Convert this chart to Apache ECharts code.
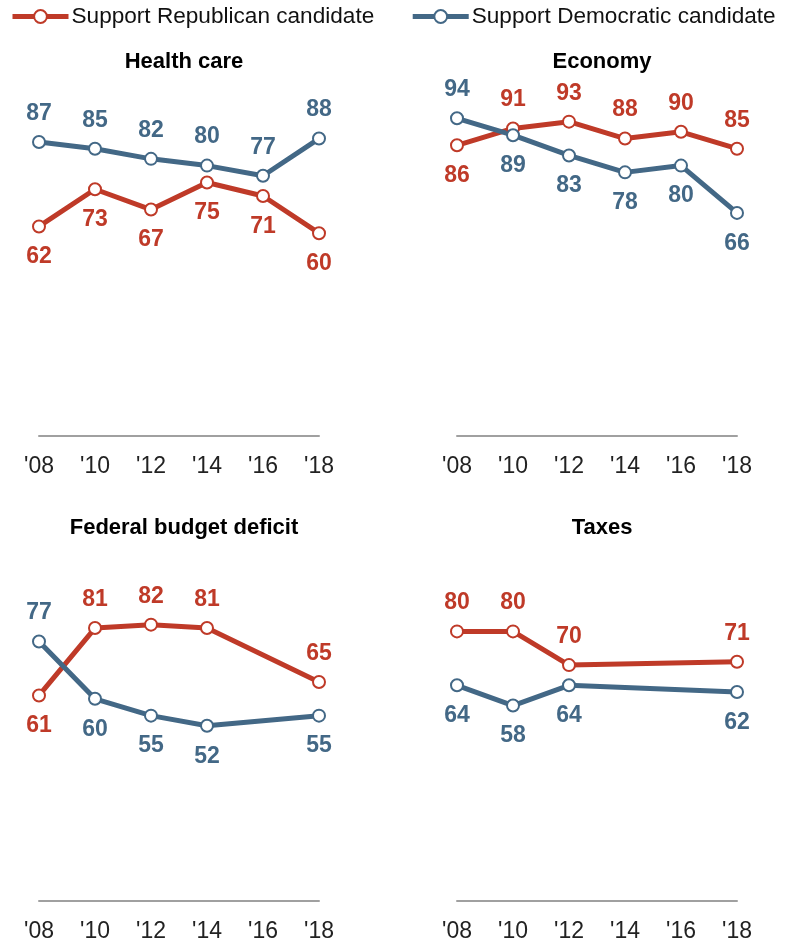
<!DOCTYPE html>
<html>
<head>
<meta charset="utf-8">
<script src="https://cdn.jsdelivr.net/npm/echarts@6/dist/echarts.min.js"></script>
<style>
html,body{margin:0;padding:0;background:#fff;}
#chart{width:789px;height:943px;}
</style>
</head>
<body>
<div id="chart"></div>
<script>
const years = ["'08", "'10", "'12", "'14", "'16", "'18"];
const panelTitles = ['Health care', 'Economy', 'Federal budget deficit', 'Taxes'];
const seriesNames = ['Support Republican candidate', 'Support Democratic candidate'];

const healthRep = [62, 73, 67, 75, 71, 60];
const healthDem = [87, 85, 82, 80, 77, 88];
const economyRep = [86, 91, 93, 88, 90, 85];
const economyDem = [94, 89, 83, 78, 80, 66];
const deficitRep = [61, 81, 82, 81, null, 65];
const deficitDem = [77, 60, 55, 52, null, 55];
const taxesRep = [80, 80, 70, null, null, 71];
const taxesDem = [64, 58, 64, null, null, 62];

const REP = '#bf3a28';
const DEM = '#436886';
const FONT = '"Liberation Sans", Arial, sans-serif';

const panels = [
  { rep: healthRep, dem: healthDem, left: 39, top: 98 },
  { rep: economyRep, dem: economyDem, left: 457, top: 98 },
  { rep: deficitRep, dem: deficitDem, left: 39, top: 564 },
  { rep: taxesRep, dem: taxesDem, left: 457, top: 564 }
];
const GW = 280, GH = 338;

function buildData(vals, other) {
  return vals.map((v, i) => {
    if (v === null) return '-';
    const above = other[i] === null || v >= other[i];
    return {
      value: v,
      label: { position: above ? 'top' : 'bottom', distance: above ? 10 : 12 }
    };
  });
}

const grid = [], xAxis = [], yAxis = [], series = [], title = [];
panels.forEach((p, k) => {
  grid.push({ left: p.left, top: p.top, width: GW, height: GH });
  xAxis.push({
    type: 'category', gridIndex: k, data: years, boundaryGap: false,
    axisLine: { lineStyle: { color: '#a0a0a0', width: 2 } },
    axisTick: { show: false },
    axisLabel: { color: '#222', fontSize: 23, fontFamily: FONT, margin: 19, interval: 0 },
    splitLine: { show: false }
  });
  yAxis.push({ type: 'value', gridIndex: k, min: 0, max: 100, show: false });
  title.push({
    text: panelTitles[k], left: p.left + GW / 2, top: p.top - 52,
    textAlign: 'center',
    textStyle: { fontSize: 22, fontWeight: 'bold', color: '#000', fontFamily: FONT }
  });
  [[p.rep, p.dem, REP, seriesNames[0]], [p.dem, p.rep, DEM, seriesNames[1]]].forEach(([vals, other, col, name]) => {
    series.push({
      type: 'line', name: name, xAxisIndex: k, yAxisIndex: k,
      data: buildData(vals, other), connectNulls: true,
      symbol: 'emptyCircle', symbolSize: 12,
      lineStyle: { color: col, width: 5 },
      itemStyle: { color: col, borderColor: col, borderWidth: 3 },
      label: { show: true, color: col, fontSize: 23, fontWeight: 'bold', fontFamily: FONT },
      animation: false
    });
  });
});

const chart = echarts.init(document.getElementById('chart'), null, { renderer: 'canvas' });
chart.setOption({
  animation: false,
  backgroundColor: '#fff',
  title: title,
  legend: {
    data: seriesNames, left: 10, top: 5, width: 779, padding: 0, orient: 'horizontal',
    itemWidth: 56, itemHeight: 16, itemGap: 36,
    lineStyle: { width: 5 },
    itemStyle: { borderWidth: 3 },
    textStyle: { fontSize: 22.6, color: '#111', fontFamily: FONT, padding: [0, 0, 0, -2] },
    selectedMode: false
  },
  grid: grid, xAxis: xAxis, yAxis: yAxis, series: series
});
</script>
</body>
</html>
